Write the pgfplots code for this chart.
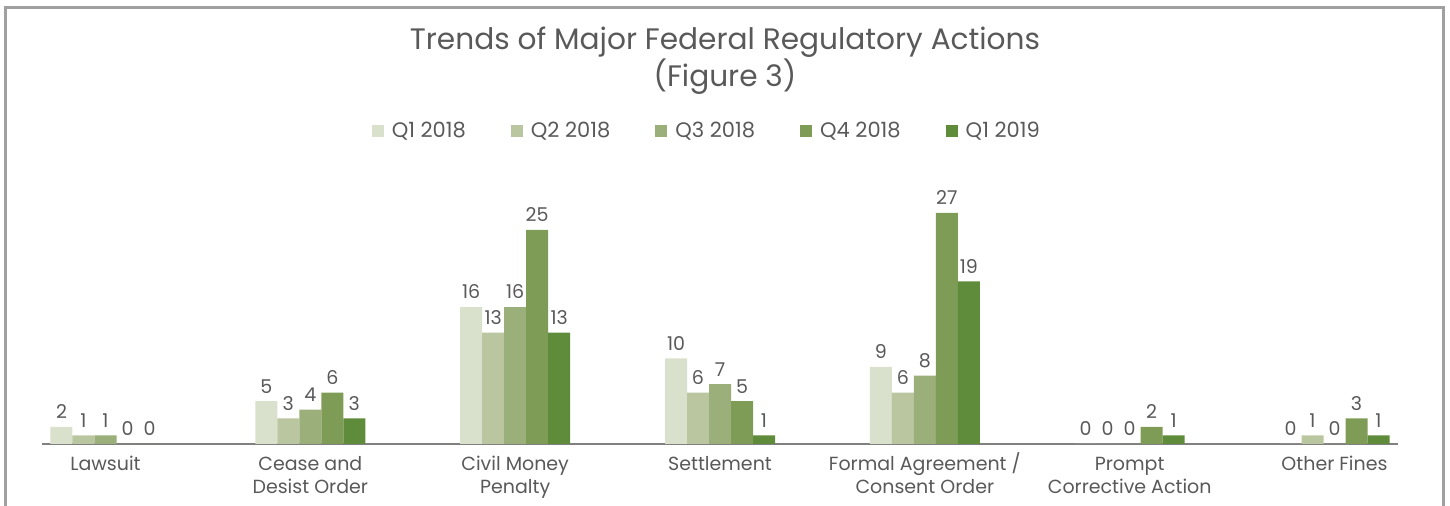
\documentclass[border=0pt]{standalone}
\usepackage{pgfplots}
\pgfplotsset{compat=1.18}
\usepackage{fontspec}
\setmainfont{Poppins}
\definecolor{txt}{HTML}{595959}
\definecolor{cA}{HTML}{D9E0CC}
\definecolor{cB}{HTML}{BAC6A0}
\definecolor{cC}{HTML}{9BAF7A}
\definecolor{cD}{HTML}{7F9C57}
\definecolor{cE}{HTML}{5F8C3B}
\definecolor{frame}{HTML}{A0A0A0}
\newcommand{\R}{\rule{0pt}{10pt}}
\begin{document}
\begin{tikzpicture}[x=1pt,y=1pt]
\useasboundingbox (0,0) rectangle (725,253);
\draw[frame, line width=1.5pt] (2.5,-3) -- (2.5,249) -- (721.5,249) -- (721.5,-3);
\node[txt, font=\fontsize{14.8}{18.5}\selectfont, align=center] at (362.5,222.5) {Trends of Major Federal Regulatory Actions\\(Figure 3)};
\begin{axis}[
  at={(21pt,31pt)}, anchor=south west,
  scale only axis, width=678pt, height=128.4pt,
  ybar=0pt, bar width=11pt,
  xmin=-0.31, xmax=6.31, ymin=0, ymax=30,
  enlargelimits=false,
  hide y axis,
  axis x line*=bottom,
  x axis line style={draw=black!50, line width=0.75pt},
  xtick={0,1,2,3,4,5,6},
  xtick style={draw=none},
  xticklabels={\R Lawsuit,{\R Cease and\\Desist Order},{\R Civil Money\\Penalty},\R Settlement,{\R Formal Agreement /\\Consent Order},{\R Prompt\\Corrective Action},\R Other Fines},
  xticklabel style={align=center, text=txt, font=\fontsize{9.5}{11.5}\selectfont, anchor=north, yshift=4.5pt},
  /pgf/number format/assume math mode=true,
  nodes near coords,
  every node near coord/.append style={text=txt, font=\fontsize{9.5}{11}\selectfont, yshift=0.5pt},
  legend columns=5,
  legend style={draw=none, fill=none, at={(0.491,1.218)}, anchor=center, font=\fontsize{10.5}{12}\selectfont, text=txt,
    /tikz/every even column/.append style={column sep=20.5pt},
    /tikz/every odd column/.append style={column sep=2pt}},
  legend image code/.code={\fill[#1,draw=none] (0pt,-3pt) rectangle (6pt,3pt);},
]
\addplot[fill=cA, draw=none] coordinates {(0,2) (1,5) (2,16) (3,10) (4,9) (5,0) (6,0)};
\addplot[fill=cB, draw=none] coordinates {(0,1) (1,3) (2,13) (3,6) (4,6) (5,0) (6,1)};
\addplot[fill=cC, draw=none] coordinates {(0,1) (1,4) (2,16) (3,7) (4,8) (5,0) (6,0)};
\addplot[fill=cD, draw=none] coordinates {(0,0) (1,6) (2,25) (3,5) (4,27) (5,2) (6,3)};
\addplot[fill=cE, draw=none] coordinates {(0,0) (1,3) (2,13) (3,1) (4,19) (5,1) (6,1)};
\legend{Q1 2018,Q2 2018,Q3 2018,Q4 2018,Q1 2019}
\end{axis}
\end{tikzpicture}
\end{document}
